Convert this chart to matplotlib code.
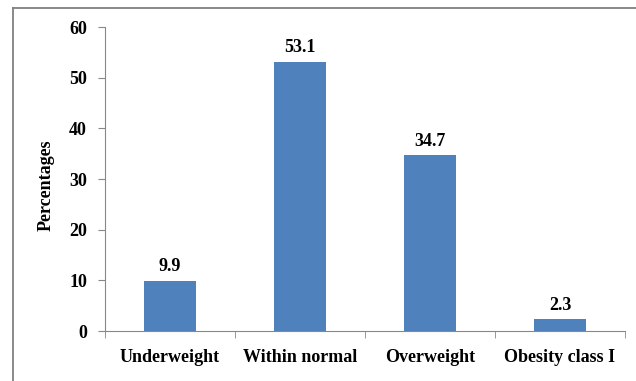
import matplotlib.pyplot as plt
from matplotlib.lines import Line2D
import numpy as np

categories = ['Underweight', 'Within normal', 'Overweight', 'Obesity class I']
percentages = [9.9, 53.1, 34.7, 2.3]
yticks = [0, 10, 20, 30, 40, 50, 60]

plt.rcParams['font.family'] = ['Liberation Serif', 'DejaVu Serif']
plt.rcParams['font.weight'] = 'bold'

fig = plt.figure(figsize=(6.36, 3.81), dpi=100)
ax = fig.add_axes([0.1651, 0.1312, 0.8176, 0.7979])

x = np.arange(len(categories))
ax.bar(x, percentages, width=0.4, color='#4F81BD')

for xi, v in zip(x, percentages):
    ax.annotate('%.1f' % v, (xi, v), xytext=(0, 4), textcoords='offset points',
                ha='center', va='bottom', fontsize=13, fontweight='bold')

ax.set_xlim(-0.5, len(categories) - 0.5)
ax.set_ylim(0, 60)
ax.set_yticks(yticks)
ax.set_xticks(x)
ax.set_xticklabels(categories, fontsize=13, fontweight='bold')
ax.set_xticks(np.arange(-0.5, len(categories)), minor=True)
ax.tick_params(axis='x', which='major', length=0, pad=13)
ax.tick_params(axis='x', which='minor', length=5, color='#888888', direction='out')
ax.tick_params(axis='y', length=5, color='#888888', labelsize=13, pad=8)
for lbl in ax.get_yticklabels():
    lbl.set_fontweight('bold')

ax.set_ylabel('Percentages', fontsize=13, fontweight='bold')
ax.yaxis.set_label_coords(-0.097, 0.48)

ax.spines['top'].set_visible(False)
ax.spines['right'].set_visible(False)
ax.spines['left'].set_color('#888888')
ax.spines['bottom'].set_color('#888888')

# outer frame, top and left edges
fig.add_artist(Line2D([0.0197, 1.0], [0.979, 0.979], transform=fig.transFigure,
                      color='#808080', lw=1.3))
fig.add_artist(Line2D([0.0197, 0.0197], [0.0, 0.979], transform=fig.transFigure,
                      color='#808080', lw=1.3))

fig.savefig('out.png', dpi=100)
